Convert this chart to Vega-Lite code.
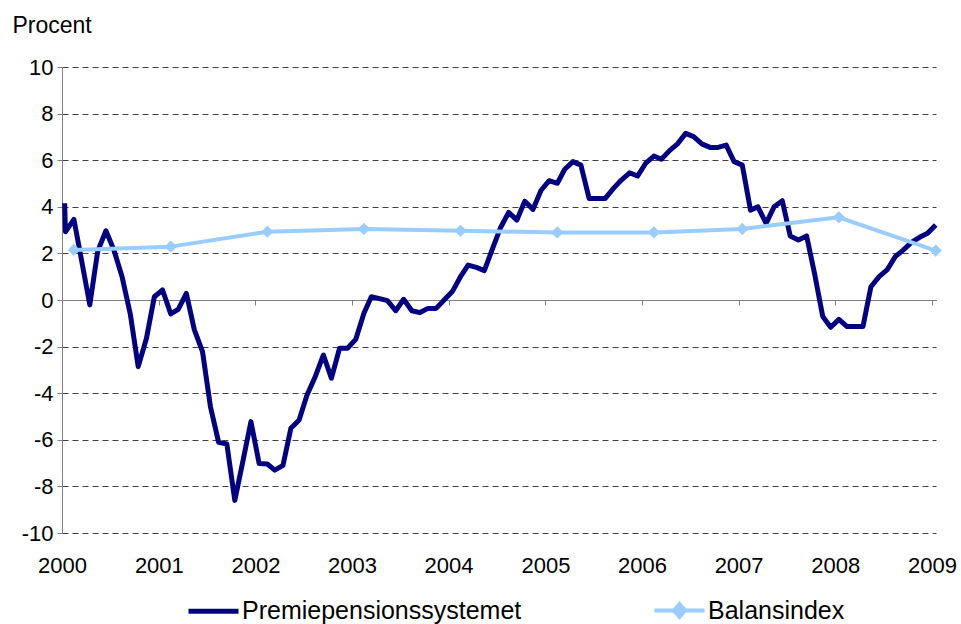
{
  "$schema": "https://vega.github.io/schema/vega-lite/v6.json",
  "width": 874,
  "height": 466,
  "autosize": {"type": "none"},
  "padding": {"left": 62, "top": 67, "right": 25, "bottom": 91},
  "background": "white",
  "config": {
    "view": {"stroke": null},
    "font": "Liberation Sans",
    "axis": {"labelFont": "Liberation Sans", "labelFontSize": 22, "labelColor": "#000000", "titleFont": "Liberation Sans"}
  },
  "data": {
    "values": [
      {"date": "2000-01-11", "series": "Premiepensionssystemet", "value": 4.15},
      {"date": "2000-01-14", "series": "Premiepensionssystemet", "value": 2.93},
      {"date": "2000-02-15", "series": "Premiepensionssystemet", "value": 3.46},
      {"date": "2000-03-15", "series": "Premiepensionssystemet", "value": 1.7},
      {"date": "2000-04-15", "series": "Premiepensionssystemet", "value": -0.21},
      {"date": "2000-05-15", "series": "Premiepensionssystemet", "value": 2.1},
      {"date": "2000-06-15", "series": "Premiepensionssystemet", "value": 2.97},
      {"date": "2000-07-15", "series": "Premiepensionssystemet", "value": 2.15},
      {"date": "2000-08-15", "series": "Premiepensionssystemet", "value": 1.0},
      {"date": "2000-09-15", "series": "Premiepensionssystemet", "value": -0.6},
      {"date": "2000-10-15", "series": "Premiepensionssystemet", "value": -2.86},
      {"date": "2000-11-15", "series": "Premiepensionssystemet", "value": -1.65},
      {"date": "2000-12-15", "series": "Premiepensionssystemet", "value": 0.14},
      {"date": "2001-01-15", "series": "Premiepensionssystemet", "value": 0.43},
      {"date": "2001-02-15", "series": "Premiepensionssystemet", "value": -0.6},
      {"date": "2001-03-15", "series": "Premiepensionssystemet", "value": -0.4},
      {"date": "2001-04-15", "series": "Premiepensionssystemet", "value": 0.28},
      {"date": "2001-05-15", "series": "Premiepensionssystemet", "value": -1.27},
      {"date": "2001-06-15", "series": "Premiepensionssystemet", "value": -2.22},
      {"date": "2001-07-15", "series": "Premiepensionssystemet", "value": -4.58},
      {"date": "2001-08-15", "series": "Premiepensionssystemet", "value": -6.11},
      {"date": "2001-09-15", "series": "Premiepensionssystemet", "value": -6.18},
      {"date": "2001-10-15", "series": "Premiepensionssystemet", "value": -8.6},
      {"date": "2001-11-15", "series": "Premiepensionssystemet", "value": -6.9},
      {"date": "2001-12-15", "series": "Premiepensionssystemet", "value": -5.22},
      {"date": "2002-01-15", "series": "Premiepensionssystemet", "value": -7.02},
      {"date": "2002-02-15", "series": "Premiepensionssystemet", "value": -7.04},
      {"date": "2002-03-15", "series": "Premiepensionssystemet", "value": -7.3},
      {"date": "2002-04-15", "series": "Premiepensionssystemet", "value": -7.1},
      {"date": "2002-05-15", "series": "Premiepensionssystemet", "value": -5.5},
      {"date": "2002-06-15", "series": "Premiepensionssystemet", "value": -5.15},
      {"date": "2002-07-15", "series": "Premiepensionssystemet", "value": -4.08},
      {"date": "2002-08-15", "series": "Premiepensionssystemet", "value": -3.29},
      {"date": "2002-09-15", "series": "Premiepensionssystemet", "value": -2.36},
      {"date": "2002-10-15", "series": "Premiepensionssystemet", "value": -3.36},
      {"date": "2002-11-15", "series": "Premiepensionssystemet", "value": -2.07},
      {"date": "2002-12-15", "series": "Premiepensionssystemet", "value": -2.07},
      {"date": "2003-01-15", "series": "Premiepensionssystemet", "value": -1.69},
      {"date": "2003-02-15", "series": "Premiepensionssystemet", "value": -0.57},
      {"date": "2003-03-15", "series": "Premiepensionssystemet", "value": 0.14},
      {"date": "2003-04-15", "series": "Premiepensionssystemet", "value": 0.06},
      {"date": "2003-05-15", "series": "Premiepensionssystemet", "value": -0.03},
      {"date": "2003-06-15", "series": "Premiepensionssystemet", "value": -0.46},
      {"date": "2003-07-15", "series": "Premiepensionssystemet", "value": 0.03},
      {"date": "2003-08-15", "series": "Premiepensionssystemet", "value": -0.46},
      {"date": "2003-09-15", "series": "Premiepensionssystemet", "value": -0.54},
      {"date": "2003-10-15", "series": "Premiepensionssystemet", "value": -0.36},
      {"date": "2003-11-15", "series": "Premiepensionssystemet", "value": -0.36},
      {"date": "2003-12-15", "series": "Premiepensionssystemet", "value": 0.0},
      {"date": "2004-01-15", "series": "Premiepensionssystemet", "value": 0.36},
      {"date": "2004-02-15", "series": "Premiepensionssystemet", "value": 1.0},
      {"date": "2004-03-15", "series": "Premiepensionssystemet", "value": 1.5},
      {"date": "2004-04-15", "series": "Premiepensionssystemet", "value": 1.4},
      {"date": "2004-05-15", "series": "Premiepensionssystemet", "value": 1.26},
      {"date": "2004-06-15", "series": "Premiepensionssystemet", "value": 2.2},
      {"date": "2004-07-15", "series": "Premiepensionssystemet", "value": 3.1},
      {"date": "2004-08-15", "series": "Premiepensionssystemet", "value": 3.76},
      {"date": "2004-09-15", "series": "Premiepensionssystemet", "value": 3.43},
      {"date": "2004-10-15", "series": "Premiepensionssystemet", "value": 4.24},
      {"date": "2004-11-15", "series": "Premiepensionssystemet", "value": 3.89},
      {"date": "2004-12-15", "series": "Premiepensionssystemet", "value": 4.7},
      {"date": "2005-01-15", "series": "Premiepensionssystemet", "value": 5.12},
      {"date": "2005-02-15", "series": "Premiepensionssystemet", "value": 5.01},
      {"date": "2005-03-15", "series": "Premiepensionssystemet", "value": 5.61},
      {"date": "2005-04-15", "series": "Premiepensionssystemet", "value": 5.94},
      {"date": "2005-05-15", "series": "Premiepensionssystemet", "value": 5.79},
      {"date": "2005-06-15", "series": "Premiepensionssystemet", "value": 4.36},
      {"date": "2005-07-15", "series": "Premiepensionssystemet", "value": 4.36},
      {"date": "2005-08-15", "series": "Premiepensionssystemet", "value": 4.36},
      {"date": "2005-09-15", "series": "Premiepensionssystemet", "value": 4.79},
      {"date": "2005-10-15", "series": "Premiepensionssystemet", "value": 5.15},
      {"date": "2005-11-15", "series": "Premiepensionssystemet", "value": 5.46},
      {"date": "2005-12-15", "series": "Premiepensionssystemet", "value": 5.32},
      {"date": "2006-01-15", "series": "Premiepensionssystemet", "value": 5.87},
      {"date": "2006-02-15", "series": "Premiepensionssystemet", "value": 6.18},
      {"date": "2006-03-15", "series": "Premiepensionssystemet", "value": 6.04},
      {"date": "2006-04-15", "series": "Premiepensionssystemet", "value": 6.41},
      {"date": "2006-05-15", "series": "Premiepensionssystemet", "value": 6.7},
      {"date": "2006-06-15", "series": "Premiepensionssystemet", "value": 7.15},
      {"date": "2006-07-15", "series": "Premiepensionssystemet", "value": 7.01},
      {"date": "2006-08-15", "series": "Premiepensionssystemet", "value": 6.7},
      {"date": "2006-09-15", "series": "Premiepensionssystemet", "value": 6.55},
      {"date": "2006-10-15", "series": "Premiepensionssystemet", "value": 6.55},
      {"date": "2006-11-15", "series": "Premiepensionssystemet", "value": 6.65},
      {"date": "2006-12-15", "series": "Premiepensionssystemet", "value": 5.94},
      {"date": "2007-01-15", "series": "Premiepensionssystemet", "value": 5.79},
      {"date": "2007-02-15", "series": "Premiepensionssystemet", "value": 3.85},
      {"date": "2007-03-15", "series": "Premiepensionssystemet", "value": 4.0},
      {"date": "2007-04-15", "series": "Premiepensionssystemet", "value": 3.29},
      {"date": "2007-05-15", "series": "Premiepensionssystemet", "value": 4.0},
      {"date": "2007-06-15", "series": "Premiepensionssystemet", "value": 4.26},
      {"date": "2007-07-15", "series": "Premiepensionssystemet", "value": 2.75},
      {"date": "2007-08-15", "series": "Premiepensionssystemet", "value": 2.58},
      {"date": "2007-09-15", "series": "Premiepensionssystemet", "value": 2.75},
      {"date": "2007-10-15", "series": "Premiepensionssystemet", "value": 1.14},
      {"date": "2007-11-15", "series": "Premiepensionssystemet", "value": -0.71},
      {"date": "2007-12-15", "series": "Premiepensionssystemet", "value": -1.17},
      {"date": "2008-01-15", "series": "Premiepensionssystemet", "value": -0.83},
      {"date": "2008-02-15", "series": "Premiepensionssystemet", "value": -1.14},
      {"date": "2008-03-15", "series": "Premiepensionssystemet", "value": -1.14},
      {"date": "2008-04-15", "series": "Premiepensionssystemet", "value": -1.14},
      {"date": "2008-05-15", "series": "Premiepensionssystemet", "value": 0.57},
      {"date": "2008-06-15", "series": "Premiepensionssystemet", "value": 1.0},
      {"date": "2008-07-15", "series": "Premiepensionssystemet", "value": 1.29},
      {"date": "2008-08-15", "series": "Premiepensionssystemet", "value": 1.86},
      {"date": "2008-09-15", "series": "Premiepensionssystemet", "value": 2.15},
      {"date": "2008-10-15", "series": "Premiepensionssystemet", "value": 2.47},
      {"date": "2008-11-15", "series": "Premiepensionssystemet", "value": 2.69},
      {"date": "2008-12-15", "series": "Premiepensionssystemet", "value": 2.86},
      {"date": "2009-01-15", "series": "Premiepensionssystemet", "value": 3.22},
      {"date": "2000-02-15", "series": "Balansindex", "value": 2.15},
      {"date": "2001-02-15", "series": "Balansindex", "value": 2.29},
      {"date": "2002-02-15", "series": "Balansindex", "value": 2.93},
      {"date": "2003-02-15", "series": "Balansindex", "value": 3.05},
      {"date": "2004-02-15", "series": "Balansindex", "value": 2.97},
      {"date": "2005-02-15", "series": "Balansindex", "value": 2.9},
      {"date": "2006-02-15", "series": "Balansindex", "value": 2.9},
      {"date": "2007-01-15", "series": "Balansindex", "value": 3.05},
      {"date": "2008-01-15", "series": "Balansindex", "value": 3.55},
      {"date": "2009-01-15", "series": "Balansindex", "value": 2.12}
    ]
  },
  "layer": [
    {
      "transform": [{"filter": "datum.series === 'Premiepensionssystemet'"}],
      "mark": {"type": "line", "strokeWidth": 5, "strokeJoin": "round"},
      "encoding": {
        "x": {
          "field": "date", "type": "temporal",
          "scale": {"type": "utc", "domain": [{"year": 2000, "month": 1, "date": 1, "utc": true}, {"year": 2009, "month": 1, "date": 16, "utc": true}]},
          "axis": {"orient": "bottom", "format": "%Y", "tickCount": {"interval": "year", "step": 1}, "ticks": false, "domain": false, "grid": false, "labelPadding": 22, "title": null, "labelFlush": false, "labelOverlap": false}
        },
        "y": {
          "field": "value", "type": "quantitative",
          "scale": {"domain": [-10, 10], "nice": false, "zero": false},
          "axis": {
            "values": [-10, -8, -6, -4, -2, 0, 2, 4, 6, 8, 10],
            "labelExpr": "'' + datum.value",
            "grid": true, "gridDash": [6, 4], "gridColor": "#404040", "gridWidth": 1,
            "domain": true, "domainColor": "#808080", "tickColor": "#808080", "tickSize": 5, "labelPadding": 4,
            "title": "Procent", "titleAngle": 0, "titleAlign": "left", "titleBaseline": "middle",
            "titleX": -50, "titleY": -42, "titleFontSize": 23, "titleFontWeight": "normal", "titleColor": "#000000"
          }
        },
        "color": {
          "field": "series", "type": "nominal",
          "scale": {"domain": ["Premiepensionssystemet", "Balansindex"], "range": ["#000080", "#99ccff"]},
          "legend": {
            "orient": "none", "legendX": 139, "legendY": 531, "direction": "horizontal", "title": null,
            "labelFontSize": 25, "labelFont": "Liberation Sans", "labelColor": "#000000", "labelOffset": 16, "labelLimit": 400,
            "symbolType": "stroke", "symbolSize": 2500, "symbolStrokeWidth": 5, "columnPadding": 124,
            "encode": {
              "symbols": {
                "update": {
                  "shape": {"signal": "datum.value === 'Balansindex' ? 'M-1,0H1M0,-0.26L0.22,0L0,0.26L-0.22,0Z' : 'stroke'"},
                  "strokeWidth": {"signal": "datum.value === 'Balansindex' ? 4 : 5"},
                  "fill": {"signal": "datum.value === 'Balansindex' ? '#99ccff' : 'transparent'"}
                }
              }
            }
          }
        }
      }
    },
    {
      "transform": [{"filter": "datum.series === 'Balansindex'"}],
      "mark": {"type": "line", "strokeWidth": 4, "strokeJoin": "round"},
      "encoding": {
        "x": {
          "field": "date", "type": "temporal",
          "axis": {"orient": "bottom", "offset": -233, "labels": false, "ticks": true, "tickSize": 5, "tickColor": "#808080", "domain": true, "domainColor": "#808080", "grid": false, "title": null, "tickCount": {"interval": "year", "step": 1}}
        },
        "y": {"field": "value", "type": "quantitative"},
        "color": {"field": "series", "type": "nominal"}
      }
    },
    {
      "transform": [{"filter": "datum.series === 'Balansindex'"}],
      "mark": {"type": "point", "shape": "diamond", "filled": true, "size": 150, "color": "#99ccff", "opacity": 1},
      "encoding": {
        "x": {"field": "date", "type": "temporal", "axis": null},
        "y": {"field": "value", "type": "quantitative"}
      }
    }
  ],
  "resolve": {"axis": {"x": "independent"}}
}
